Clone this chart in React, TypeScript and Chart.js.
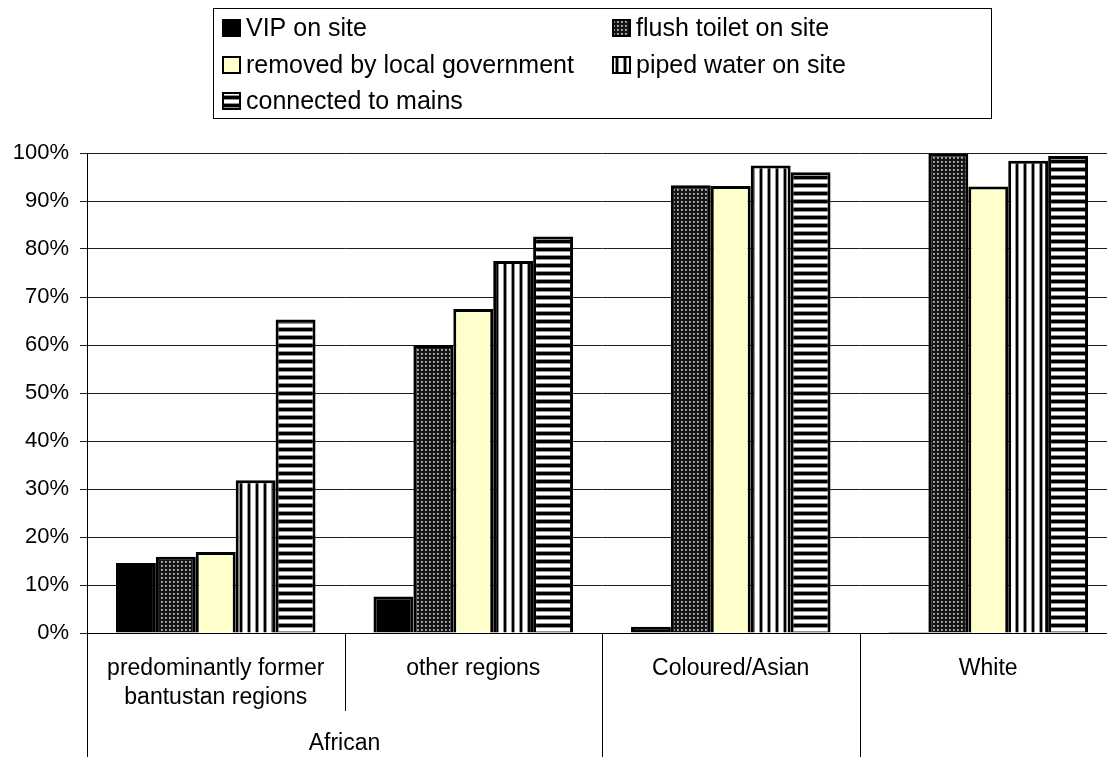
import { useEffect, useRef } from 'react';
import { Chart, registerables } from 'chart.js';

Chart.register(...registerables);

// Categories (first level of the x axis) and their wrapped label lines
const categories = ['predominantly former bantustan regions', 'other regions', 'Coloured/Asian', 'White'];
const categoryLines = [['predominantly former', 'bantustan regions'], ['other regions'], ['Coloured/Asian'], ['White']];

// Second-level grouping of the x axis
const groupNames = ['African'];
const groupStart = [0];
const groupEnd = [1];

// Series labels and values (percent of households)
const seriesLabels = [
  'VIP on site',
  'flush toilet on site',
  'removed by local government',
  'piped water on site',
  'connected to mains',
];
const vipOnSite = [14.6, 7.6, 1.3, 0.2];
const flushToilet = [15.9, 60.0, 93.3, 99.9];
const removedByGov = [16.9, 67.5, 93.1, 93.0];
const pipedWater = [31.8, 77.5, 97.4, 98.4];
const connectedMains = [65.3, 82.6, 96.0, 99.4];

// y axis ticks
const yTickValues = [0, 10, 20, 30, 40, 50, 60, 70, 80, 90, 100];

const FONT = '"Liberation Sans", Arial, Helvetica, sans-serif';
const CANVAS_W = 1140;
const CANVAS_H = 757;

function makePattern(w: number, h: number, draw: (c: CanvasRenderingContext2D) => void) {
  const cv = document.createElement('canvas');
  cv.width = w;
  cv.height = h;
  const c = cv.getContext('2d')!;
  draw(c);
  return c.createPattern(cv, 'repeat')!;
}

function buildFills() {
  const dots = makePattern(4, 4, (c) => {
    c.fillStyle = '#151515';
    c.fillRect(0, 0, 4, 4);
    c.fillStyle = '#8a8a8a';
    c.fillRect(1, 1, 2, 2);
    c.fillStyle = '#d0d0d0';
    c.fillRect(1, 1, 1, 1);
  });
  const vertical = makePattern(8, 8, (c) => {
    c.fillStyle = '#ffffff';
    c.fillRect(0, 0, 8, 8);
    c.fillStyle = '#000000';
    c.fillRect(0, 0, 2, 8);
    c.fillStyle = '#909090';
    c.fillRect(2, 0, 1, 8);
    c.fillRect(7, 0, 1, 8);
  });
  const horizontal = makePattern(8, 8, (c) => {
    c.fillStyle = '#ffffff';
    c.fillRect(0, 0, 8, 8);
    c.fillStyle = '#000000';
    c.fillRect(0, 0, 8, 3);
    c.fillStyle = '#909090';
    c.fillRect(0, 3, 8, 1);
    c.fillRect(0, 7, 8, 1);
  });
  return ['#000000', dots, '#ffffcc', vertical, horizontal];
}

// Draws the boxed two-column legend, the category labels and the grouped axis separators
const decorPlugin = {
  id: 'decor',
  afterDraw(chart: any) {
    const ctx: CanvasRenderingContext2D = chart.ctx;
    const xs = chart.scales.x;
    const bottom = chart.chartArea.bottom;
    const n = categories.length;
    const catW = (xs.right - xs.left) / n;

    ctx.save();
    // separators below the axis
    ctx.strokeStyle = '#000';
    ctx.lineWidth = 1;
    for (let i = 0; i <= n; i++) {
      const x = Math.round(xs.left + i * catW) + 0.5;
      let inner = false;
      for (let g = 0; g < groupNames.length; g++) {
        if (i > groupStart[g] && i <= groupEnd[g]) inner = true;
      }
      ctx.beginPath();
      ctx.moveTo(x, bottom);
      ctx.lineTo(x, inner ? bottom + 78 : CANVAS_H);
      ctx.stroke();
    }

    // category labels
    ctx.fillStyle = '#000';
    ctx.font = `23px ${FONT}`;
    ctx.textAlign = 'center';
    ctx.textBaseline = 'middle';
    categoryLines.forEach((lines, i) => {
      const cx = xs.getPixelForValue(i);
      lines.forEach((t, k) => ctx.fillText(t, cx, bottom + 36 + k * 29));
    });
    // group labels
    groupNames.forEach((name, g) => {
      const cx = (xs.left + groupStart[g] * catW + xs.left + (groupEnd[g] + 1) * catW) / 2;
      ctx.fillText(name, cx, bottom + 111);
    });

    // legend box
    ctx.strokeStyle = '#000';
    ctx.lineWidth = 1;
    ctx.strokeRect(213.5, 8.5, 778, 110);
    const colX = [222, 612];
    const rowY = [28, 65, 101];
    ctx.font = `25px ${FONT}`;
    ctx.textAlign = 'left';
    chart.data.datasets.forEach((ds: any, i: number) => {
      const x = colX[i % 2];
      const y = rowY[Math.floor(i / 2)];
      ctx.fillStyle = ds.backgroundColor;
      ctx.fillRect(x, y - 9, 19, 18);
      ctx.strokeStyle = '#000';
      ctx.lineWidth = 2;
      ctx.strokeRect(x + 1, y - 8, 17, 16);
      ctx.fillStyle = '#000';
      ctx.fillText(ds.label, x + 24, y + 1);
    });
    ctx.restore();
  },
};

export default function App() {
  const ref = useRef<HTMLCanvasElement | null>(null);

  useEffect(() => {
    if (!ref.current) return;
    const fills = buildFills();
    const seriesValues = [vipOnSite, flushToilet, removedByGov, pipedWater, connectedMains];
    const chart = new Chart(ref.current, {
      type: 'bar',
      data: {
        labels: categories,
        datasets: seriesValues.map((vals, i) => ({
          label: seriesLabels[i],
          data: vals,
          backgroundColor: fills[i] as any,
          borderColor: '#000',
          borderWidth: 3,
          categoryPercentage: 0.775,
          barPercentage: 1,
        })),
      },
      options: {
        animation: false,
        responsive: false,
        layout: { padding: { top: 153, right: CANVAS_W - 1117, left: 0, bottom: 0 } },
        plugins: {
          legend: { display: false },
          tooltip: { enabled: false },
        },
        scales: {
          x: {
            grid: { display: false },
            border: { display: true, color: '#000', width: 1 },
            ticks: { display: false },
            afterFit: (s: any) => {
              s.height = 124;
            },
          },
          y: {
            min: 0,
            max: 100,
            afterBuildTicks: (s: any) => {
              s.ticks = yTickValues.map((v) => ({ value: v }));
            },
            grid: { color: '#1e1e1e', lineWidth: 1, tickLength: 7, drawTicks: true },
            border: { display: true, color: '#000', width: 1 },
            ticks: {
              padding: 11,
              color: '#000',
              font: { family: FONT, size: 22 },
              callback: (v: any) => `${v}%`,
            },
            afterFit: (s: any) => {
              s.width = 87;
            },
          },
        },
      },
      plugins: [decorPlugin],
    });
    return () => chart.destroy();
  }, []);

  return (
    <div
      style={{
        position: 'fixed',
        left: 0,
        top: 0,
        width: 1107,
        height: 757,
        overflow: 'hidden',
        background: '#fff',
      }}
    >
      <canvas ref={ref} width={CANVAS_W} height={CANVAS_H} style={{ width: CANVAS_W, height: CANVAS_H, display: 'block' }} />
    </div>
  );
}
